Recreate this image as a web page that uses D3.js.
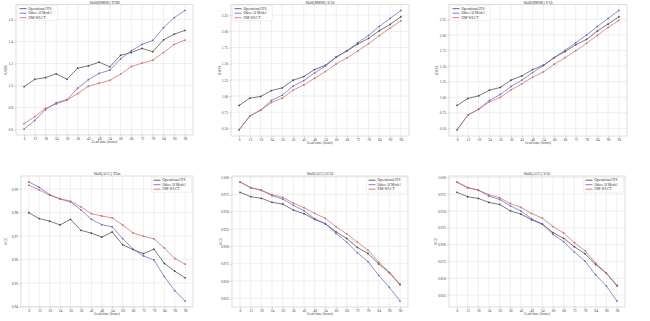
<!DOCTYPE html>
<html><head><meta charset="utf-8">
<script src="https://cdn.jsdelivr.net/npm/d3@7"></script>
<style>html,body{margin:0;padding:0;background:#fff;}svg{display:block;}</style>
</head><body>
<svg id="c" width="650" height="321"></svg>
<script>
const leadTimes = [6,12,18,24,30,36,42,48,54,60,66,72,78,84,90,96];
const seriesNames = ["Operational IFS","Other AI Model","DM-WLCT"];

const rmseT2m_ifs = [0.99,1.057,1.072,1.107,1.057,1.158,1.179,1.212,1.170,1.275,1.300,1.337,1.307,1.415,1.466,1.500];
const rmseT2m_ai  = [0.606,0.684,0.782,0.845,0.872,0.976,1.054,1.110,1.140,1.242,1.316,1.373,1.409,1.525,1.615,1.681];
const rmseT2m_dm  = [0.654,0.719,0.794,0.833,0.869,0.928,0.994,1.021,1.048,1.104,1.173,1.203,1.230,1.299,1.373,1.412];

const rmseU10_ifs = [0.854,0.967,0.993,1.085,1.126,1.244,1.301,1.409,1.475,1.604,1.696,1.804,1.891,2.009,2.107,2.225];
const rmseU10_ai  = [0.480,0.695,0.782,0.931,1.013,1.152,1.239,1.357,1.465,1.598,1.701,1.824,1.937,2.076,2.199,2.322];
const rmseU10_dm  = [0.475,0.690,0.782,0.900,0.967,1.090,1.172,1.275,1.378,1.496,1.588,1.696,1.809,1.932,2.050,2.163];

const rmseV10_ifs = [0.868,0.980,1.022,1.113,1.156,1.273,1.342,1.443,1.513,1.635,1.731,1.843,1.928,2.062,2.174,2.291];
const rmseV10_ai  = [0.479,0.713,0.809,0.948,1.044,1.172,1.273,1.395,1.507,1.635,1.753,1.875,1.998,2.136,2.264,2.392];
const rmseV10_dm  = [0.473,0.713,0.804,0.926,0.996,1.118,1.214,1.321,1.406,1.529,1.635,1.747,1.865,1.992,2.120,2.232];

const accT2m_ifs = [0.9799,0.9774,0.9763,0.9747,0.9771,0.9724,0.9712,0.9695,0.9717,0.9663,0.9642,0.9625,0.9644,0.9583,0.9550,0.9522];
const accT2m_ai  = [0.9930,0.9907,0.9876,0.9857,0.9845,0.9811,0.9771,0.9748,0.9739,0.9689,0.9644,0.9615,0.9598,0.9527,0.9467,0.9423];
const accT2m_dm  = [0.9916,0.9896,0.9873,0.9859,0.9848,0.9824,0.9795,0.9785,0.9777,0.9747,0.9713,0.9699,0.9688,0.9649,0.9604,0.9580];

const accU10_ifs = [0.9780,0.9717,0.9693,0.9635,0.9611,0.9524,0.9471,0.9389,0.9326,0.9210,0.9114,0.8984,0.8897,0.8747,0.8622,0.8453];
const accU10_ai  = [0.9929,0.9847,0.9809,0.9732,0.9683,0.9592,0.9514,0.9399,0.9326,0.9186,0.9061,0.8906,0.8781,0.8583,0.8409,0.8211];
const accU10_dm  = [0.9929,0.9847,0.9809,0.9746,0.9707,0.9625,0.9558,0.9476,0.9403,0.9283,0.9181,0.9061,0.8945,0.8776,0.8622,0.8443];

const accV10_ifs = [0.9777,0.9712,0.9687,0.9627,0.9597,0.9502,0.9453,0.9368,0.9303,0.9178,0.9093,0.8969,0.8864,0.8704,0.8574,0.8385];
const accV10_ai  = [0.9927,0.9847,0.9807,0.9722,0.9672,0.9577,0.9498,0.9383,0.9308,0.9153,0.9043,0.8889,0.8754,0.8549,0.8385,0.8160];
const accV10_dm  = [0.9932,0.9847,0.9812,0.9742,0.9697,0.9612,0.9553,0.9463,0.9393,0.9268,0.9173,0.9028,0.8908,0.8724,0.8574,0.8395];

const ticksRmseT2m = [0.6,0.8,1.0,1.2,1.4,1.6];
const ticksRmseWind = [0.50,0.75,1.00,1.25,1.50,1.75,2.00,2.25];
const ticksAccT2m = [0.94,0.95,0.96,0.97,0.98,0.99];
const ticksAccWind = [0.825,0.850,0.875,0.900,0.925,0.950,0.975,1.000];

const titles = ["Skill(RMSE) T2M","Skill(RMSE) U10","Skill(RMSE) V10","Skill(ACC) T2m","Skill(ACC) U10","Skill(ACC) V10"];
const colors = ["#3c3c3c","#5a5ad6","#d65c5c"];

const panels = [
  {title:titles[0], box:[16,4.5,193,135], ylab:"RMSE", ylx:7, yt:ticksRmseT2m, fmt:".1f", data:[rmseT2m_ifs,rmseT2m_ai,rmseT2m_dm], leg:"ul"},
  {title:titles[1], box:[231,4.5,409,136], ylab:"RMSE", ylx:221, yt:ticksRmseWind, fmt:".2f", data:[rmseU10_ifs,rmseU10_ai,rmseU10_dm], leg:"ul"},
  {title:titles[2], box:[449,4.5,627,136], ylab:"RMSE", ylx:438, yt:ticksRmseWind, fmt:".2f", data:[rmseV10_ifs,rmseV10_ai,rmseV10_dm], leg:"ul"},
  {title:titles[3], box:[21,176,193,307], ylab:"ACC", ylx:7, yt:ticksAccT2m, fmt:".2f", data:[accT2m_ifs,accT2m_ai,accT2m_dm], leg:"ur"},
  {title:titles[4], box:[232,176,408,307], ylab:"ACC", ylx:222, yt:ticksAccWind, fmt:".3f", data:[accU10_ifs,accU10_ai,accU10_dm], leg:"ur"},
  {title:titles[5], box:[449,176,625,307], ylab:"ACC", ylx:437, yt:ticksAccWind, fmt:".3f", data:[accV10_ifs,accV10_ai,accV10_dm], leg:"ur"}
];

const svg = d3.select("#c");
const FONT = "'Liberation Serif','DejaVu Serif',serif";

panels.forEach(p => {
  const [x0,y0,x1,y1] = p.box;
  const g = svg.append("g");
  const x = d3.scaleLinear().domain([1.5,100.5]).range([x0,x1]);
  const all = p.data.flat();
  const mn = d3.min(all), mx = d3.max(all), pad = (mx-mn)*0.05;
  const y = d3.scaleLinear().domain([mn-pad,mx+pad]).range([y1,y0]);

  g.append("g").selectAll("line").data(leadTimes).join("line")
    .attr("x1",d=>x(d)).attr("x2",d=>x(d)).attr("y1",y0).attr("y2",y1)
    .attr("stroke","#e4e4e4").attr("stroke-width",0.6);
  g.append("g").selectAll("line").data(p.yt).join("line")
    .attr("x1",x0).attr("x2",x1).attr("y1",d=>y(d)).attr("y2",d=>y(d))
    .attr("stroke","#e4e4e4").attr("stroke-width",0.6);

  const xa = g.append("g").attr("transform",`translate(0,${y1})`)
    .call(d3.axisBottom(x).tickValues(leadTimes).tickFormat(d3.format("d")).tickSize(1.5).tickPadding(1));
  const ya = g.append("g").attr("transform",`translate(${x0},0)`)
    .call(d3.axisLeft(y).tickValues(p.yt).tickFormat(d3.format(p.fmt)).tickSize(1.5).tickPadding(1.5));
  [xa,ya].forEach(a=>{
    a.select(".domain").remove();
    a.selectAll("line").attr("stroke","#999").attr("stroke-width",0.5);
    a.selectAll("text").attr("font-family",FONT).attr("font-size",3.6).attr("fill","#444");
  });
  g.append("rect").attr("x",x0).attr("y",y0).attr("width",x1-x0).attr("height",y1-y0)
    .attr("fill","none").attr("stroke","#c8c8c8").attr("stroke-width",0.6);

  g.append("text").attr("x",(x0+x1)/2).attr("y",y0-1).attr("text-anchor","middle")
    .attr("font-family",FONT).attr("font-size",4).attr("fill","#333").text(p.title);
  g.append("text").attr("x",(x0+x1)/2).attr("y",y1+8).attr("text-anchor","middle")
    .attr("font-family",FONT).attr("font-size",3.6).attr("fill","#444").text("Lead time (hours)");
  g.append("text").attr("transform",`translate(${p.ylx},${(y0+y1)/2}) rotate(-90)`).attr("text-anchor","middle")
    .attr("font-family",FONT).attr("font-size",3.6).attr("fill","#444").text(p.ylab);

  const line = d3.line().x((d,i)=>x(leadTimes[i])).y(d=>y(d));
  p.data.forEach((s,k)=>{
    g.append("path").datum(s).attr("d",line).attr("fill","none")
      .attr("stroke",colors[k]).attr("stroke-width",0.8).attr("stroke-opacity",0.85);
    g.append("g").selectAll("circle").data(s).join("circle")
      .attr("cx",(d,i)=>x(leadTimes[i])).attr("cy",d=>y(d)).attr("r",0.9)
      .attr("fill",colors[k]).attr("fill-opacity",0.85);
  });

  const lw = 40, lh = 15;
  const lx = p.leg==="ul" ? x0+1.5 : x1-lw-1.5;
  const ly = y0+1.2;
  const lg = g.append("g");
  lg.append("rect").attr("x",lx).attr("y",ly).attr("width",lw).attr("height",lh)
    .attr("fill","#fff").attr("fill-opacity",0.85).attr("stroke","#ddd").attr("stroke-width",0.4).attr("rx",0.8);
  seriesNames.forEach((n,k)=>{
    const yy = ly+3+k*4.5;
    lg.append("line").attr("x1",lx+2).attr("x2",lx+9).attr("y1",yy).attr("y2",yy)
      .attr("stroke",colors[k]).attr("stroke-width",0.8);
    lg.append("text").attr("x",lx+11).attr("y",yy+1.2).attr("font-family",FONT).attr("font-size",3.6)
      .attr("fill","#333").text(n);
  });
});
</script>
</body></html>
